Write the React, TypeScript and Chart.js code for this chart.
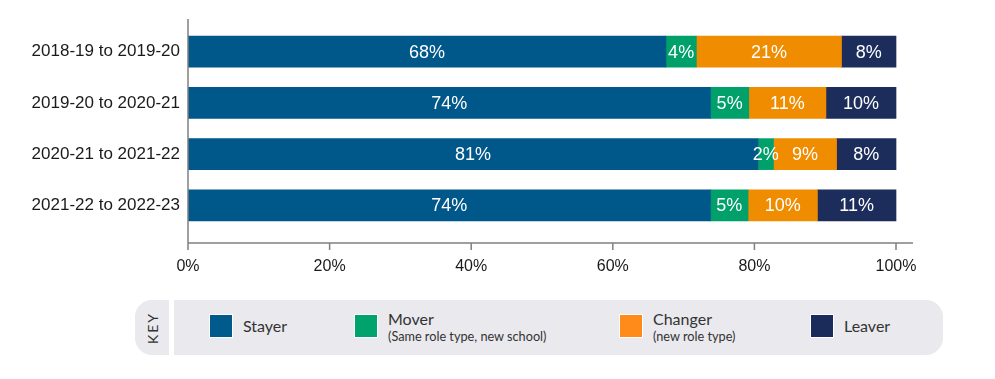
import React, { useEffect, useRef } from "react";
import { Chart, registerables } from "chart.js";

Chart.register(...registerables);

const categories = [
  "2018-19 to 2019-20",
  "2019-20 to 2020-21",
  "2020-21 to 2021-22",
  "2021-22 to 2022-23",
];
const stayer = [67.5, 73.8, 80.5, 73.8];
const mover = [4.3, 5.4, 2.2, 5.3];
const changer = [20.5, 10.9, 8.9, 9.8];
const leaver = [7.7, 9.9, 8.4, 11.1];
const xTicks = [0, 20, 40, 60, 80, 100];
const seriesNames = ["Stayer", "Mover", "Changer", "Leaver"];
const seriesNotes = ["", "(Same role type, new school)", "(new role type)", ""];

const barColors = ["#00578a", "#00a06a", "#f08c00", "#1c2d5c"];
const swatchColors = ["#005a8c", "#00a36c", "#ff8c1a", "#1b2c5a"];
const legendSwatchX = [209, 354, 619, 810];

const FONT = "'Liberation Sans', Arial, sans-serif";

const axisPlugin = {
  id: "customAxes",
  afterDraw(chart: any) {
    const { ctx, chartArea } = chart;
    const x = chart.scales.x;
    const x0 = x.getPixelForValue(0);
    const yBottom = chartArea.bottom + 12;
    ctx.save();
    ctx.strokeStyle = "#808080";
    ctx.lineWidth = 1.5;
    ctx.beginPath();
    ctx.moveTo(x0, chartArea.top - 7);
    ctx.lineTo(x0, yBottom);
    ctx.moveTo(x0, yBottom);
    ctx.lineTo(chartArea.right, yBottom);
    for (const t of xTicks) {
      const px = x.getPixelForValue(t);
      ctx.moveTo(px, yBottom);
      ctx.lineTo(px, yBottom + 7);
    }
    ctx.stroke();
    ctx.restore();
  },
};

const labelPlugin = {
  id: "segLabels",
  afterDatasetsDraw(chart: any) {
    const { ctx } = chart;
    ctx.save();
    ctx.fillStyle = "#ffffff";
    ctx.font = `18px ${FONT}`;
    ctx.textAlign = "center";
    ctx.textBaseline = "middle";
    chart.data.datasets.forEach((ds: any, di: number) => {
      const meta = chart.getDatasetMeta(di);
      meta.data.forEach((el: any, i: number) => {
        const p = el.getCenterPoint();
        ctx.fillText(`${Math.round(ds.data[i])}%`, p.x, p.y + 1);
      });
    });
    ctx.restore();
  },
};

export default function App() {
  const ref = useRef<HTMLCanvasElement | null>(null);

  useEffect(() => {
    if (!ref.current) return;
    const series = [stayer, mover, changer, leaver];
    const chart = new Chart(ref.current, {
      type: "bar",
      data: {
        labels: categories,
        datasets: series.map((d, i) => ({
          label: seriesNames[i],
          data: d,
          backgroundColor: barColors[i],
          borderWidth: 0,
          barThickness: 31,
        })),
      },
      options: {
        indexAxis: "y",
        responsive: false,
        animation: false,
        layout: { padding: { top: 26, right: 82, bottom: 0, left: 0 } },
        plugins: {
          legend: { display: false },
          tooltip: { enabled: false },
        },
        scales: {
          x: {
            stacked: true,
            min: 0,
            max: 102.4,
            grid: { display: false, drawTicks: false },
            border: { display: false },
            afterBuildTicks: (s: any) => {
              s.ticks = xTicks.map((v) => ({ value: v }));
            },
            afterFit: (s: any) => {
              s.height = 59;
            },
            ticks: {
              includeBounds: false,
              padding: 26,
              color: "#1a1a1a",
              font: { family: FONT, size: 16 },
              callback: (v: any) => `${v}%`,
              maxRotation: 0,
            },
          },
          y: {
            stacked: true,
            grid: { display: false, drawTicks: false },
            border: { display: false },
            afterFit: (s: any) => {
              s.width = 188;
            },
            ticks: {
              padding: 8,
              color: "#1a1a1a",
              font: { family: FONT, size: 17 },
            },
          },
        },
      },
      plugins: [axisPlugin, labelPlugin],
    } as any);
    return () => chart.destroy();
  }, []);

  const legendFont = "Lato, 'Noto Sans', sans-serif";

  return (
    <div style={{ position: "absolute", left: 0, top: 0, width: 995, height: 379, background: "#fff" }}>
      <canvas ref={ref} width={995} height={290} style={{ display: "block" }} />
      <div
        style={{
          position: "absolute",
          left: 135,
          top: 300,
          width: 34,
          height: 55,
          background: "#e9e9ee",
          borderRadius: "17px 0 0 17px",
        }}
      >
        <div
          style={{
            position: "absolute",
            left: "50%",
            top: "50%",
            transform: "translate(-50%, -50%) rotate(-90deg)",
            fontFamily: legendFont,
            fontSize: 14,
            letterSpacing: 2,
            color: "#333",
            whiteSpace: "nowrap",
          }}
        >
          KEY
        </div>
      </div>
      <div
        style={{
          position: "absolute",
          left: 174,
          top: 300,
          width: 769,
          height: 55,
          background: "#e9e9ee",
          borderRadius: "0 17px 17px 0",
        }}
      />
      {seriesNames.map((name, i) => (
        <React.Fragment key={name}>
          <div
            style={{
              position: "absolute",
              left: legendSwatchX[i],
              top: 314,
              width: 22,
              height: 22,
              background: swatchColors[i],
              border: "1.5px solid #ffffff",
            }}
          />
          <div
            style={{
              position: "absolute",
              left: legendSwatchX[i] + 34,
              top: seriesNotes[i] ? 309 : 316,
              fontFamily: legendFont,
              color: "#333",
              whiteSpace: "nowrap",
            }}
          >
            <div style={{ fontSize: 16, lineHeight: "20px" }}>{name}</div>
            {seriesNotes[i] && (
              <div style={{ fontSize: 12.7, lineHeight: "14px" }}>{seriesNotes[i]}</div>
            )}
          </div>
        </React.Fragment>
      ))}
    </div>
  );
}
